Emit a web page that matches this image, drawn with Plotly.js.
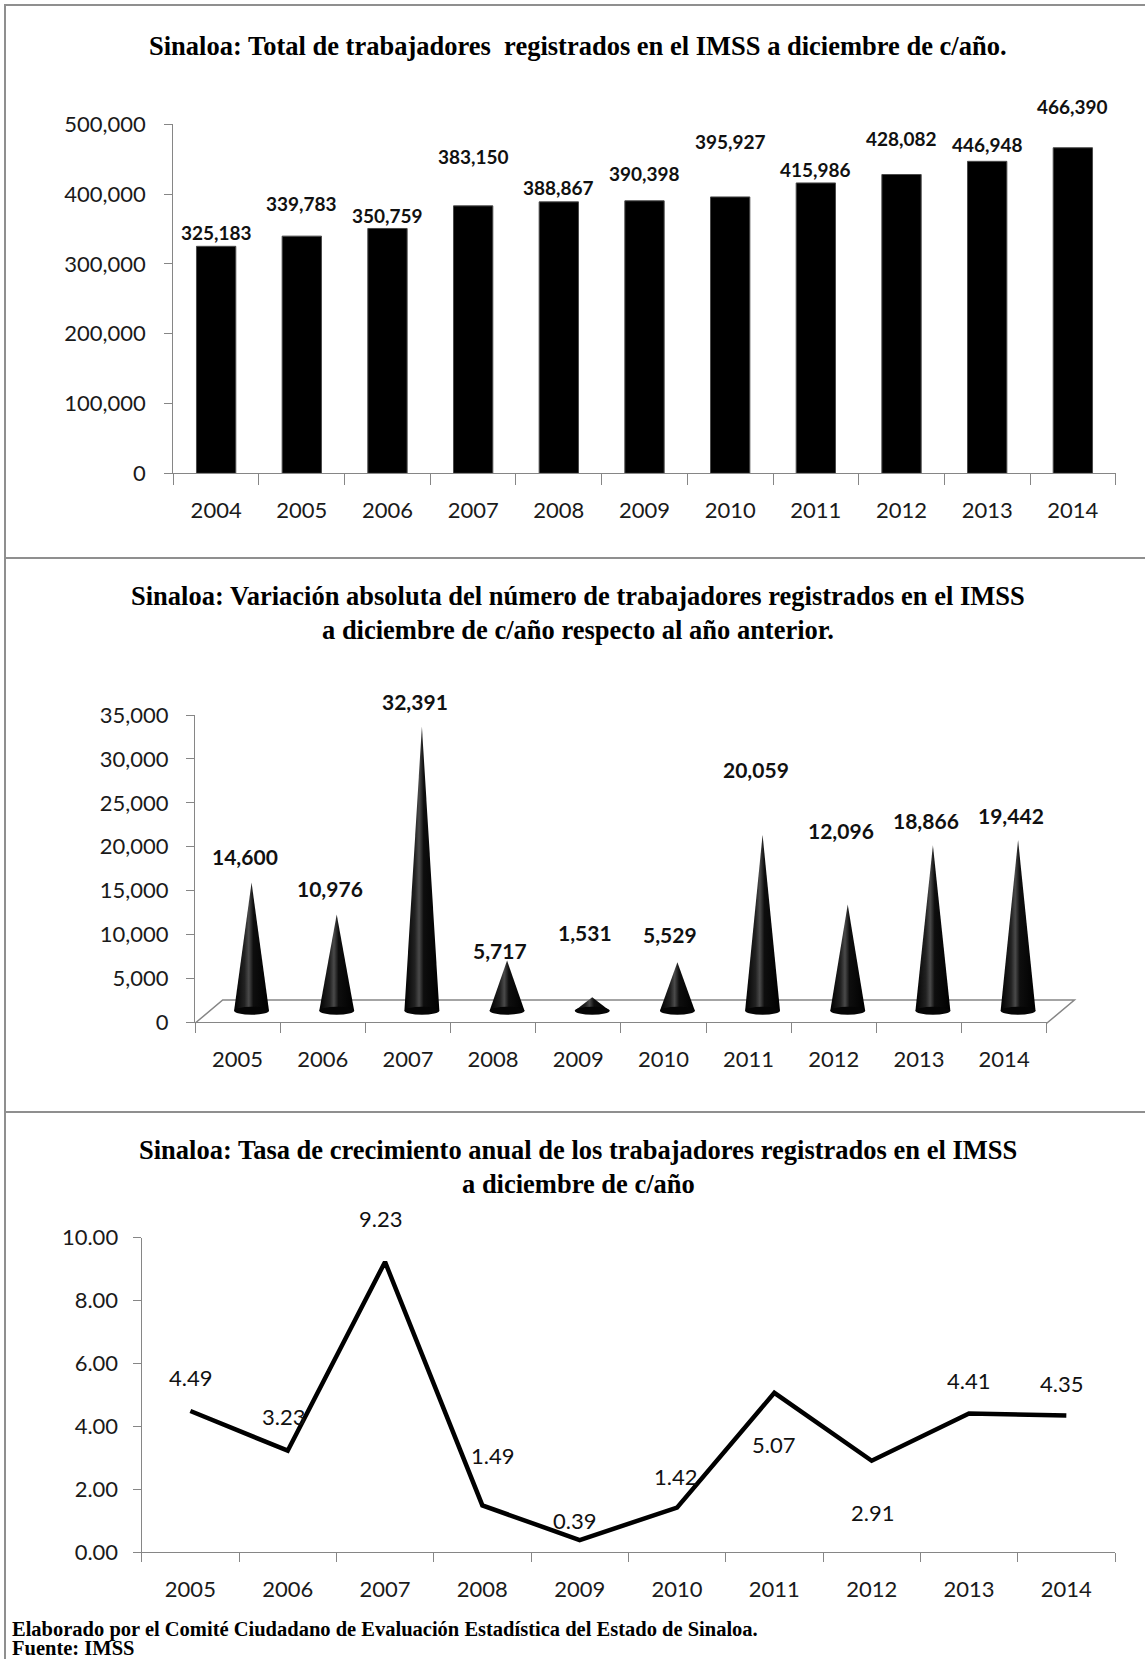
<!DOCTYPE html>
<html><head><meta charset="utf-8">
<script src="https://cdn.plot.ly/plotly-3.0.1.min.js"></script>
<style>html,body{margin:0;padding:0;background:#fff}#chart{width:1145px;height:1659px}</style>
</head><body><div id="chart"></div>
<script>
// ---------------- data ----------------
const yearsTotal = ['2004','2005','2006','2007','2008','2009','2010','2011','2012','2013','2014'];
const totalWorkers = [325183,339783,350759,383150,388867,390398,395927,415986,428082,446948,466390];

const yearsChange = ['2005','2006','2007','2008','2009','2010','2011','2012','2013','2014'];
const absChange = [14600,10976,32391,5717,1531,5529,20059,12096,18866,19442];

const yearsGrowth = ['2005','2006','2007','2008','2009','2010','2011','2012','2013','2014'];
const growthRate = [4.49,3.23,9.23,1.49,0.39,1.42,5.07,2.91,4.41,4.35];

const title1 = 'Sinaloa: Total de trabajadores  registrados en el IMSS a diciembre de c/año.';
const title2 = ['Sinaloa: Variación absoluta del número de trabajadores registrados en el IMSS',
                'a diciembre de c/año respecto al año anterior.'];
const title3 = ['Sinaloa: Tasa de crecimiento anual de los trabajadores registrados en el IMSS',
                'a diciembre de c/año'];
const footer = ['Elaborado por el Comité Ciudadano de Evaluación Estadística del Estado de Sinaloa.',
                'Fuente: IMSS'];

// ---------------- label placement (pixel offsets, style only) ----------------
const totalLabelLift = [14,33,13,49,14,27,55,13,36,17,41];
const changeLabelLift = [26,26,25,10,65,28,65,74,25,25];
const growthLabelShift = [[0,34],[-4,34],[-5,43],[10,50],[-5,20],[-2,31],[-1,-52],[1,-52],[-1,33],[-5,32]];

// ---------------- layout helpers ----------------
const W = 1145, H = 1659;
const fx = p => p / W;
const fy = p => 1 - p / H;
const AX = '#868686';
const TICKF = {family: 'Lato, sans-serif', size: 22, color: '#1a1a1a'};
const TITLEF = {family: '"Liberation Serif", "Times New Roman", serif', size: 26.5, color: '#000'};

// 3D depth offset of the cone chart (half of floor depth)
const coneDX = 0.164;      // in category units
const coneDY = 1311;       // in value units
const coneHalfW = 0.205;
const coneBaseHalfH = 456;

const dom1x = [fx(173.3), fx(1115.7)], dom1y = [fy(473.3), fy(124.3)];
const dom2x = [fx(195), fx(1046.7)], dom2y = [fy(1022.3), fy(715)];
const dom4x = [fx(141.7), fx(1115)], dom4y = [fy(1552.3), fy(1237.7)];

const traces = [];
// Panel 1 bars
traces.push({
  type: 'bar', x: yearsTotal, y: totalWorkers, xaxis: 'x', yaxis: 'y',
  marker: {color: '#000', line: {color: '#4a4a4a', width: 1}},
  hoverinfo: 'x+y'
});
// Panel 2 cones
absChange.forEach((v, i) => {
  traces.push({
    type: 'scatter', mode: 'lines', xaxis: 'x3', yaxis: 'y3',
    x: [i - coneHalfW, i, i + coneHalfW, i - coneHalfW],
    y: [0, v, 0, 0],
    fill: 'toself', line: {width: 0, color: '#000'},
    fillcolor: '#000',
    fillgradient: {type: 'horizontal', colorscale: [[0, '#000'], [0.3, '#222'], [0.42, '#4a4a4a'], [0.55, '#0e0e0e'], [1, '#000']]},
    hoverinfo: 'skip'
  });
});
traces.push({type: 'scatter', mode: 'markers', x: absChange.map((v,i)=>i), y: absChange, xaxis: 'x3', yaxis: 'y3',
  marker: {size: 1, color: 'rgba(0,0,0,0)'}, text: yearsChange, hoverinfo: 'text+y'});
// Panel 3 line
traces.push({
  type: 'scatter', mode: 'lines', x: yearsGrowth, y: growthRate, xaxis: 'x4', yaxis: 'y4',
  line: {color: '#000', width: 4.5}
});
// x-axis 2 category carrier (invisible)
traces.push({type: 'scatter', mode: 'markers', x: yearsChange, y: absChange, xaxis: 'x2', yaxis: 'y2',
  marker: {size: 1, color: 'rgba(0,0,0,0)'}, hoverinfo: 'skip'});

const annotations = [];
annotations.push({xref: 'paper', yref: 'paper', x: fx(578), y: fy(45.5), text: '<b>' + title1 + '</b>', showarrow: false, font: TITLEF, xanchor: 'center', yanchor: 'middle'});
title2.forEach((t, k) => annotations.push({xref: 'paper', yref: 'paper', x: fx(578), y: fy(596 + 34 * k), text: '<b>' + t + '</b>', showarrow: false, font: TITLEF, xanchor: 'center', yanchor: 'middle'}));
title3.forEach((t, k) => annotations.push({xref: 'paper', yref: 'paper', x: fx(578), y: fy(1150 + 34 * k), text: '<b>' + t + '</b>', showarrow: false, font: TITLEF, xanchor: 'center', yanchor: 'middle'}));
footer.forEach((t, k) => annotations.push({xref: 'paper', yref: 'paper', x: fx(10), y: fy(1629 + 19 * k), text: '<b>' + t + '</b>', showarrow: false,
  font: {family: '"Liberation Serif", serif', size: 20.5, color: '#000'}, xanchor: 'left', yanchor: 'middle'}));

// bar labels (category index positions)
totalWorkers.forEach((v, i) => annotations.push({
  xref: 'x', yref: 'y', x: i, y: v, yshift: totalLabelLift[i], text: v.toLocaleString('en-US'),
  showarrow: false, yanchor: 'middle', font: {family: 'Lato, sans-serif', size: 19, color: '#111', weight: 'bold'}
}));
// cone labels
absChange.forEach((v, i) => annotations.push({
  xref: 'x3', yref: 'y3', x: i, y: v, xshift: -7, yshift: changeLabelLift[i], text: v.toLocaleString('en-US'),
  showarrow: false, yanchor: 'middle', font: {family: 'Lato, sans-serif', size: 21, color: '#111', weight: 'bold'}
}));
// growth labels
growthRate.forEach((v, i) => annotations.push({
  xref: 'x4', yref: 'y4', x: i, y: v, xshift: growthLabelShift[i][0], yshift: growthLabelShift[i][1], text: v.toFixed(2),
  showarrow: false, yanchor: 'middle', font: {family: 'Lato, sans-serif', size: 22, color: '#111'}
}));

const shapes = [];
const BORDER = {color: '#8f8f8f', width: 2};
shapes.push({type: 'line', xref: 'paper', yref: 'paper', x0: fx(4), x1: 1, y0: fy(5), y1: fy(5), line: BORDER});
shapes.push({type: 'line', xref: 'paper', yref: 'paper', x0: fx(5), x1: fx(5), y0: fy(4), y1: 0, line: BORDER});
shapes.push({type: 'line', xref: 'paper', yref: 'paper', x0: fx(4), x1: 1, y0: fy(558), y1: fy(558), line: BORDER});
shapes.push({type: 'line', xref: 'paper', yref: 'paper', x0: fx(4), x1: 1, y0: fy(1112), y1: fy(1112), line: BORDER});
// 3D floor of the cone chart
const fl = {x0: 195, x1: 1046.7, y: 1023.3, dx: 27.7, dy: 23.3};
shapes.push({type: 'path', xref: 'paper', yref: 'paper', layer: 'below',
  path: `M ${fx(fl.x0)} ${fy(fl.y)} L ${fx(fl.x0 + fl.dx)} ${fy(fl.y - fl.dy)} L ${fx(fl.x1 + fl.dx)} ${fy(fl.y - fl.dy)} L ${fx(fl.x1)} ${fy(fl.y)}`,
  line: {color: AX, width: 1.5}});
// cone bases
absChange.forEach((v, i) => shapes.push({type: 'circle', xref: 'x3', yref: 'y3',
  x0: i - coneHalfW, x1: i + coneHalfW, y0: -coneBaseHalfH, y1: coneBaseHalfH,
  fillcolor: '#050505', line: {width: 0}}));

const baseX = {type: 'category', showline: true, linecolor: AX, linewidth: 1.3, ticks: 'outside', tickcolor: AX, tickwidth: 1.3,
  tickson: 'boundaries', showgrid: false, zeroline: false, tickfont: TICKF, fixedrange: true, ticklabelstandoff: 17};
const baseY = {showline: true, linecolor: AX, linewidth: 1.3, ticks: 'outside', tickcolor: AX, tickwidth: 1.3, ticklen: 8,
  showgrid: false, zeroline: false, tickfont: TICKF, fixedrange: true};

const layout = {
  width: W, height: H, margin: {l: 0, r: 0, t: 0, b: 0}, showlegend: false,
  paper_bgcolor: '#fff', plot_bgcolor: 'rgba(0,0,0,0)', bargap: 0.541,
  xaxis: Object.assign({}, baseX, {domain: dom1x, range: [-0.5, 10.5], anchor: 'y', ticklen: 11}),
  yaxis: Object.assign({}, baseY, {domain: dom1y, range: [0, 500000], dtick: 100000, tickformat: ',d', anchor: 'x', ticklabelstandoff: 14}),
  xaxis2: Object.assign({}, baseX, {domain: dom2x, range: [-0.5, 9.5], anchor: 'y2', ticklen: 10, categoryarray: yearsChange, categoryorder: 'array'}),
  yaxis2: Object.assign({}, baseY, {domain: dom2y, range: [0, 35000], dtick: 5000, tickformat: ',d', anchor: 'x2', ticklabelstandoff: 13}),
  xaxis3: {type: 'linear', domain: dom2x, anchor: 'y3', range: [-0.5 - coneDX, 9.5 - coneDX], visible: false, fixedrange: true},
  yaxis3: {type: 'linear', domain: dom2y, anchor: 'x3', range: [-coneDY, 35000 - coneDY], visible: false, fixedrange: true},
  xaxis4: Object.assign({}, baseX, {domain: dom4x, range: [-0.5, 9.5], anchor: 'y4', ticklen: 9}),
  yaxis4: Object.assign({}, baseY, {domain: dom4y, range: [0, 10], dtick: 2, tickformat: '.2f', anchor: 'x4', ticklabelstandoff: 10}),
  annotations: annotations, shapes: shapes
};

Plotly.newPlot('chart', traces, layout, {displayModeBar: false});
</script>
</body></html>
